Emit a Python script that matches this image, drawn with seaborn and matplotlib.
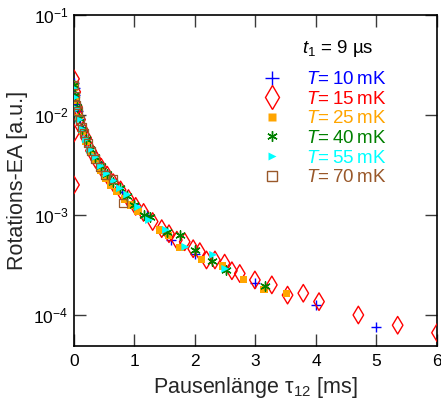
import matplotlib
matplotlib.use("Agg")
import matplotlib.pyplot as plt
from matplotlib.lines import Line2D
from matplotlib.ticker import FixedLocator, NullLocator, LogFormatterSciNotation
import pandas as pd
import seaborn as sns

# ---- measured decay curves, one list pair per temperature ----
temps = ["10", "15", "25", "40", "55", "70"]

tau_10 = [0.0, 0.01, 0.02, 0.04, 0.06, 0.1, 0.15, 0.2, 0.3, 0.4, 0.5, 0.6, 0.8,
          1.0, 1.2, 1.6, 2.0, 3.0, 4.0, 5.0]
ea_10 = [2.1e-2, 1.85e-2, 1.6e-2, 1.3e-2, 1.1e-2, 9.2e-3, 7.0e-3, 5.9e-3, 4.3e-3,
         3.35e-3, 2.75e-3, 2.3e-3, 1.68e-3, 1.28e-3, 9.9e-4, 5.6e-4, 4.1e-4,
         2.07e-4, 1.26e-4, 7.5e-5]

tau_15 = [0.0, 0.0, 0.0, 0.02, 0.05, 0.1, 0.15, 0.2, 0.28, 0.36, 0.45, 0.55, 0.65,
          0.77, 0.9, 1.02, 1.15, 1.3, 1.45, 1.57, 1.7, 1.83, 1.97, 2.08, 2.19, 2.33,
          2.49, 2.61, 2.74, 2.99, 3.27, 3.53, 3.79, 4.05, 4.70, 5.35, 6.0]
ea_15 = [2.3e-2, 6.6e-3, 2.0e-3, 1.7e-2, 1.2e-2, 9.0e-3, 7.0e-3, 5.9e-3, 4.4e-3,
         3.6e-3, 3.0e-3, 2.5e-3, 2.1e-3, 1.78e-3, 1.46e-3, 1.22e-3, 1.06e-3,
         8.6e-4, 7.3e-4, 6.5e-4, 5.6e-4, 5.4e-4, 4.6e-4, 4.3e-4, 3.55e-4, 3.55e-4,
         3.3e-4, 2.77e-4, 2.6e-4, 2.24e-4, 2.0e-4, 1.58e-4, 1.65e-4, 1.36e-4,
         1.0e-4, 7.9e-5, 6.65e-5]

tau_25 = [0.0, 0.03, 0.08, 0.14, 0.2, 0.27, 0.35, 0.44, 0.53, 0.6, 0.71, 0.84,
          0.94, 1.06, 1.41, 1.56, 1.75, 2.11, 2.45, 2.8, 3.14, 3.51]
ea_25 = [1.9e-2, 1.4e-2, 9.5e-3, 6.8e-3, 5.4e-3, 4.3e-3, 3.5e-3, 2.8e-3, 2.3e-3,
         2.0e-3, 1.72e-3, 1.45e-3, 1.26e-3, 1.08e-3, 7.1e-4, 6.2e-4, 4.75e-4,
         3.6e-4, 3.1e-4, 2.27e-4, 1.8e-4, 1.65e-4]

tau_40 = [0.0, 0.02, 0.05, 0.09, 0.14, 0.2, 0.27, 0.35, 0.44, 0.54, 0.65, 0.76,
          0.88, 1.0, 1.15, 1.26, 1.53, 1.76, 2.0, 2.28, 2.51, 3.15]
ea_40 = [2.0e-2, 1.6e-2, 1.2e-2, 9.4e-3, 7.2e-3, 5.8e-3, 4.6e-3, 3.8e-3, 3.1e-3,
         2.55e-3, 2.15e-3, 1.85e-3, 1.55e-3, 1.25e-3, 1.0e-3, 9.5e-4, 6.8e-4,
         6.3e-4, 4.5e-4, 3.5e-4, 2.8e-4, 1.95e-4]

tau_55 = [0.0, 0.02, 0.05, 0.09, 0.14, 0.2, 0.27, 0.35, 0.44, 0.54, 0.65, 0.76,
          0.88, 1.06, 1.24, 1.52, 1.84, 2.3, 2.5]
ea_55 = [1.85e-2, 1.5e-2, 1.15e-2, 9.0e-3, 7.2e-3, 5.7e-3, 4.5e-3, 3.8e-3, 3.1e-3,
         2.6e-3, 2.2e-3, 1.85e-3, 1.6e-3, 1.2e-3, 8.9e-4, 7.1e-4, 4.8e-4, 4.0e-4,
         2.9e-4]

tau_70 = [0.0, 0.02, 0.04, 0.07, 0.1, 0.13, 0.17, 0.23, 0.28, 0.35, 0.43, 0.52,
          0.65, 0.81]
ea_70 = [2.0e-2, 1.55e-2, 1.25e-2, 1.1e-2, 8.8e-3, 7.6e-3, 6.6e-3, 5.2e-3, 4.4e-3,
         3.6e-3, 3.0e-3, 2.5e-3, 2.3e-3, 1.31e-3]

x_ticks = [0, 1, 2, 3, 4, 5, 6]
y_ticks = [1e-4, 1e-3, 1e-2, 1e-1]

taus = [tau_10, tau_15, tau_25, tau_40, tau_55, tau_70]
eas = [ea_10, ea_15, ea_25, ea_40, ea_55, ea_70]

frames = [pd.DataFrame({"tau": t, "ea": e, "T": name})
          for name, t, e in zip(temps, taus, eas)]
data = pd.concat(frames, ignore_index=True)

# ---- styling per series ----
colors = {"10": "#0000ff", "15": "#ff0000", "25": "#ffa500",
          "40": "#008000", "55": "#00ffff", "70": "#99582a"}
asterisk = (6, 2, 0)
styles = {
    "10": dict(marker="+", s=60, linewidth=1.0, kind="line"),
    "15": dict(marker="d", s=80, linewidth=1.0, kind="open"),
    "25": dict(marker="s", s=28, linewidth=0.0, kind="filled"),
    "40": dict(marker=asterisk, s=45, linewidth=1.0, kind="line"),
    "55": dict(marker=">", s=32, linewidth=0.0, kind="filled"),
    "70": dict(marker="s", s=34, linewidth=0.9, kind="open"),
}

sns.set_theme(style="ticks")
plt.rcParams["font.family"] = ["Liberation Sans", "DejaVu Sans"]
plt.rcParams["mathtext.fontset"] = "custom"
plt.rcParams["mathtext.rm"] = "Liberation Sans"
plt.rcParams["mathtext.it"] = "Liberation Sans:italic"
plt.rcParams["mathtext.bf"] = "Liberation Sans:bold"

fig = plt.figure(figsize=(4.41, 4.05), dpi=100)
ax = fig.add_axes([0.1678, 0.1464, 0.8231, 0.8166])

for name in temps:
    sub = data[data["T"] == name]
    st = styles[name]
    c = colors[name]
    if st["kind"] == "line":
        sns.scatterplot(data=sub, x="tau", y="ea", ax=ax, marker=st["marker"],
                        s=st["s"], color=c, linewidth=st["linewidth"],
                        legend=False, zorder=3)
    elif st["kind"] == "filled":
        sns.scatterplot(data=sub, x="tau", y="ea", ax=ax, marker=st["marker"],
                        s=st["s"], color=c, edgecolor="none",
                        linewidth=0, legend=False, zorder=3)
    else:
        sns.scatterplot(data=sub, x="tau", y="ea", ax=ax, marker=st["marker"],
                        s=st["s"], facecolor="none", edgecolor=c,
                        linewidth=st["linewidth"], legend=False, zorder=3)

ax.set_yscale("log")
ax.set_xlim(0, 6)
ax.set_ylim(4.93e-5, 1e-1)
ax.xaxis.set_major_locator(FixedLocator(x_ticks))
ax.yaxis.set_major_locator(FixedLocator(y_ticks))
ax.yaxis.set_major_formatter(LogFormatterSciNotation())
ax.yaxis.set_minor_locator(NullLocator())
ax.xaxis.set_minor_locator(NullLocator())

ax.tick_params(axis="both", which="major", direction="in", length=8.5,
               width=1.0, color="#3a3a3a", labelsize=12.5, labelcolor="black",
               top=True, right=True)
ax.tick_params(axis="x", pad=6)
ax.tick_params(axis="y", pad=4)
for sp in ax.spines.values():
    sp.set_linewidth(1.2)
    sp.set_color("black")

ax.set_xlabel("Pausenlänge τ$_{12}$ [ms]", fontsize=15.5, labelpad=4)
ax.set_ylabel("Rotations-EA [a.u.]", fontsize=15.5, labelpad=4)

# ---- legend with coloured labels ----
handles = []
legend_sizes = {"10": 10, "15": 12, "25": 6, "40": 7.5, "55": 6, "70": 6.5}
for name in temps:
    st = styles[name]
    c = colors[name]
    if st["kind"] == "filled":
        h = Line2D([], [], linestyle="none", marker=st["marker"],
                   markersize=legend_sizes[name], markerfacecolor=c,
                   markeredgecolor="none")
    elif st["kind"] == "line":
        h = Line2D([], [], linestyle="none", marker=st["marker"],
                   markersize=legend_sizes[name], color=c, markeredgewidth=1.0)
    else:
        h = Line2D([], [], linestyle="none", marker=st["marker"],
                   markersize=legend_sizes[name], markerfacecolor="none",
                   markeredgecolor=c, markeredgewidth=1.0)
    handles.append(h)
labels = ["$T$=\u2009" + name + "\u2009mK" for name in temps]
leg = ax.legend(handles, labels, loc="upper left",
                bbox_to_anchor=(0.52, 0.83), frameon=False, fontsize=13.5,
                handlelength=1.0, handletextpad=1.3, labelspacing=0.13,
                borderpad=0, borderaxespad=0,
                labelcolor=[colors[n] for n in temps])

ax.text(0.727, 0.900, r"$t_1$ = 9 µs", transform=ax.transAxes, fontsize=13.5,
        ha="center", va="center", color="black")

fig.savefig("out.png", dpi=100)
